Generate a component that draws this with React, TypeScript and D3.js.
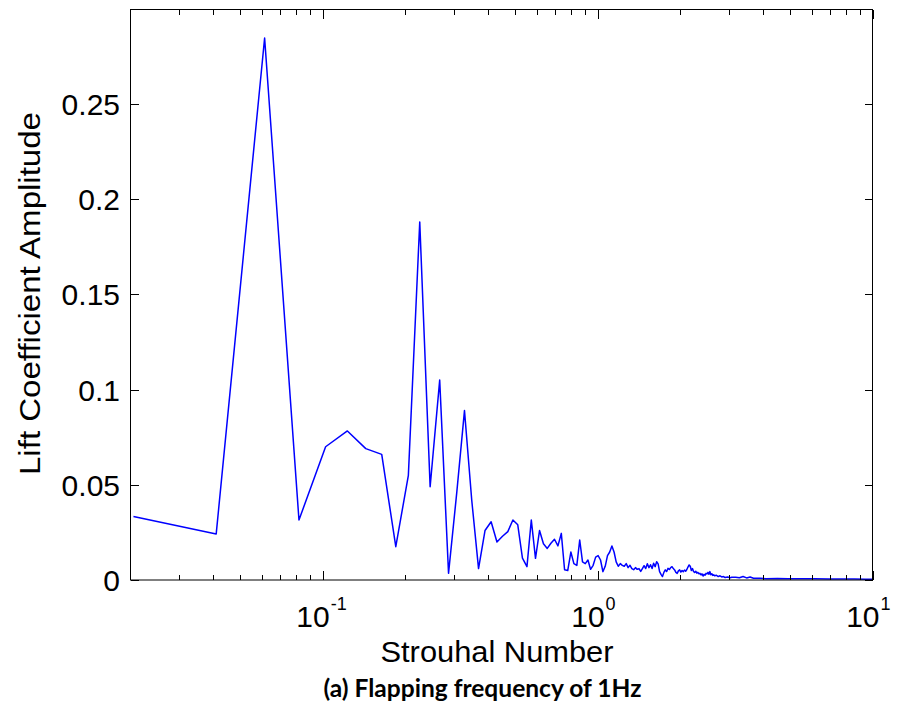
import React from "react";
import * as d3 from "d3";

// Strouhal number (x) and lift coefficient amplitude (y)
const strouhal: number[] = [
  0.0205, 0.041, 0.0615, 0.082, 0.1025, 0.123, 0.1435, 0.164, 0.1845, 0.205,
  0.2255, 0.246, 0.2665, 0.287, 0.3075, 0.328, 0.3485, 0.369, 0.3895, 0.41,
  0.4305, 0.451, 0.4715, 0.492, 0.5125, 0.533, 0.5535, 0.574, 0.5945, 0.615,
  0.6355, 0.656, 0.6765, 0.697, 0.7175, 0.738, 0.7585, 0.779, 0.7995, 0.82,
  0.8405, 0.861, 0.8815, 0.902, 0.9225, 0.943, 0.9635, 0.984, 1.0045, 1.025,
  1.0455, 1.066, 1.0865, 1.107, 1.1275, 1.148, 1.1685, 1.189, 1.2095, 1.23,
  1.2505, 1.271, 1.2915, 1.312, 1.3325, 1.353, 1.3735, 1.394, 1.4145, 1.435,
  1.4555, 1.476, 1.4965, 1.517, 1.5375, 1.558, 1.5785, 1.599, 1.6195, 1.64,
  1.6605, 1.681, 1.7015, 1.722, 1.7425, 1.763, 1.7835, 1.804, 1.8245, 1.845,
  1.8655, 1.886, 1.9065, 1.927, 1.9475, 1.968, 1.9885, 2.009, 2.0295, 2.05,
  2.0705, 2.091, 2.1115, 2.132, 2.1525, 2.173, 2.1935, 2.214, 2.2345, 2.255,
  2.2755, 2.296, 2.3165, 2.337, 2.3575, 2.378, 2.3985, 2.419, 2.4395, 2.46,
  2.4805, 2.501, 2.5215, 2.542, 2.5625, 2.583, 2.6035, 2.624, 2.6445, 2.665,
  2.706, 2.747, 2.788, 2.829, 2.87, 2.911, 2.9725, 3.034, 3.075, 3.1775,
  3.28, 3.3825, 3.485, 3.5875, 3.69, 3.895, 4.1, 4.51, 4.92, 5.33,
  5.74, 6.15, 6.97, 7.79, 8.61, 9.43, 9.9835,
];

const amplitude: number[] = [
  0.0333, 0.0242, 0.2847, 0.0315, 0.07, 0.0783, 0.069, 0.066, 0.0175, 0.055,
  0.188, 0.049, 0.105, 0.0035, 0.046, 0.089, 0.042, 0.006, 0.026, 0.0306,
  0.02, 0.023, 0.0254, 0.0315, 0.029, 0.0115, 0.007, 0.0315, 0.0114, 0.026,
  0.019, 0.0166, 0.0193, 0.0214, 0.0179, 0.0245, 0.0054, 0.005, 0.0147, 0.0086,
  0.0077, 0.021, 0.0095, 0.0086, 0.0105, 0.0056, 0.0077, 0.012, 0.0128, 0.0105,
  0.0044, 0.0072, 0.0128, 0.0147, 0.0179, 0.0147, 0.0095, 0.0072, 0.0086, 0.0077,
  0.0072, 0.0086, 0.0065, 0.0077, 0.006, 0.0054, 0.0065, 0.0056, 0.006, 0.0045,
  0.006, 0.0075, 0.006, 0.0085, 0.0065, 0.008, 0.006, 0.0088, 0.007, 0.0096,
  0.0085, 0.0044, 0.003, 0.0018, 0.004, 0.0053, 0.0045, 0.0061, 0.0055, 0.0065,
  0.007, 0.006, 0.0053, 0.004, 0.0035, 0.0048, 0.0053, 0.0042, 0.005, 0.0044,
  0.0052, 0.0046, 0.0055, 0.0068, 0.0079, 0.0072, 0.005, 0.006, 0.0045, 0.0039,
  0.0046, 0.0036, 0.004, 0.0033, 0.0035, 0.0027, 0.0032, 0.0021, 0.003, 0.0025,
  0.0035, 0.0032, 0.004, 0.003, 0.0044, 0.0028, 0.0033, 0.0024, 0.0027, 0.0022,
  0.0025, 0.0018, 0.0022, 0.0016, 0.0018, 0.0013, 0.0016, 0.0012, 0.0014, 0.0015,
  0.0012, 0.0018, 0.0011, 0.0016, 0.0009, 0.0009, 0.0007, 0.0008, 0.0006, 0.0007,
  0.0006, 0.0006, 0.0005, 0.0005, 0.0005, 0.0004, 0.0004,
];

const yTicks: number[] = [0, 0.05, 0.1, 0.15, 0.2, 0.25];
const yTickLabels: string[] = ["0", "0.05", "0.1", "0.15", "0.2", "0.25"];
const xMajorTicks: number[] = [0.1, 1, 10];
const xMajorExponents: string[] = ["-1", "0", "1"];

const W = 899;
const H = 710;
const L = 131;
const R = 873;
const T = 10;
const B = 580;

export default function App() {
  const x = d3.scaleLog().domain([0.02, 10]).range([L - 0.5, R - 0.5]);
  const y = d3.scaleLinear().domain([0, 0.2994]).range([B, T]);

  const data = strouhal.map((s, i) => [s, amplitude[i]] as [number, number]);
  const line = d3
    .line<[number, number]>()
    .x((d) => x(d[0]))
    .y((d) => y(d[1]));

  const minorTicks: number[] = [];
  [0.01, 0.1, 1].forEach((dec) => {
    for (let m = 2; m <= 9; m++) {
      const v = m * dec;
      if (v > 0.0201 && v < 10) minorTicks.push(v);
    }
  });

  const font = "'Liberation Sans', Arial, sans-serif";

  return (
    <svg
      width={W}
      height={H}
      viewBox={`0 0 ${W} ${H}`}
      style={{ position: "absolute", left: 0, top: 0, background: "#fff" }}
    >
      <rect x={0} y={0} width={W} height={H} fill="#fff" />
      <defs>
        <clipPath id="plotclip">
          <rect x={L - 1} y={T - 1} width={R - L + 2} height={B - T + 2} />
        </clipPath>
      </defs>

      {/* data line */}
      <path
        d={line(data) || ""}
        fill="none"
        stroke="#0000ff"
        strokeWidth={1.5}
        strokeLinejoin="round"
        clipPath="url(#plotclip)"
      />

      {/* ticks */}
      <g stroke="#000" strokeWidth={1}>
        {minorTicks.map((v, i) => {
          const px = Math.round(x(v)) + 0.5;
          return (
            <g key={"mn" + i}>
              <line x1={px} x2={px} y1={B} y2={B - 5} />
              <line x1={px} x2={px} y1={T} y2={T + 5} />
            </g>
          );
        })}
        {xMajorTicks.map((v, i) => {
          const px = Math.round(x(v)) + 0.5;
          return (
            <g key={"mj" + i}>
              <line x1={px} x2={px} y1={B} y2={B - 9} />
              <line x1={px} x2={px} y1={T} y2={T + 9} />
            </g>
          );
        })}
        {yTicks.map((v, i) => {
          const py = Math.round(y(v)) + 0.5;
          return (
            <g key={"yt" + i}>
              <line x1={L} x2={L + 8} y1={py} y2={py} />
              <line x1={R} x2={R - 8} y1={py} y2={py} />
            </g>
          );
        })}
      </g>

      {/* box */}
      <rect
        x={L - 0.5}
        y={T - 0.5}
        width={R - L}
        height={B - T + 0.5}
        fill="none"
        stroke="#000"
        strokeWidth={1}
      />

      {/* y tick labels */}
      {yTicks.map((v, i) => (
        <text
          key={"yl" + i}
          x={120}
          y={y(v) + 11}
          textAnchor="end"
          fontFamily={font}
          fontSize={30}
          fill="#000"
        >
          {yTickLabels[i]}
        </text>
      ))}

      {/* x tick labels */}
      {xMajorTicks.map((v, i) => {
        const px = x(v);
        return (
          <g key={"xl" + i} fontFamily={font} fill="#000">
            <text x={px + 7} y={627} textAnchor="end" fontSize={30}>
              10
            </text>
            <text x={px + 8} y={610} textAnchor="start" fontSize={18}>
              {xMajorExponents[i]}
            </text>
          </g>
        );
      })}

      {/* axis labels */}
      <text
        x={497}
        y={662}
        textAnchor="middle"
        fontFamily={font}
        fontSize={30}
        textLength={233}
        lengthAdjust="spacingAndGlyphs"
        fill="#000"
      >
        Strouhal Number
      </text>
      <text
        transform="translate(40,293.5) rotate(-90)"
        textAnchor="middle"
        fontFamily={font}
        fontSize={30}
        textLength={363}
        lengthAdjust="spacingAndGlyphs"
        fill="#000"
      >
        Lift Coefficient Amplitude
      </text>

      {/* caption */}
      <text
        x={482.5}
        y={697}
        textAnchor="middle"
        fontFamily="Lato, 'Open Sans', sans-serif"
        fontWeight={700}
        fontSize={24}
        textLength={318}
        lengthAdjust="spacingAndGlyphs"
        fill="#000"
      >
        (a) Flapping frequency of 1Hz
      </text>
    </svg>
  );
}
